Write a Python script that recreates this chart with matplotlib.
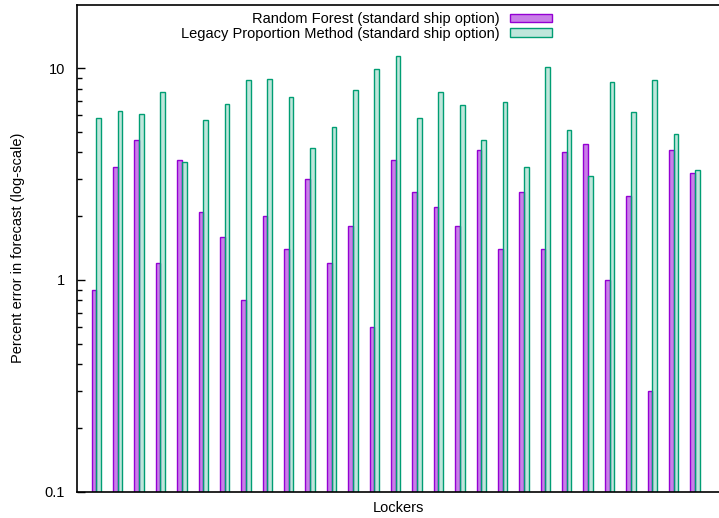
import numpy as np
import matplotlib
matplotlib.use('Agg')
import matplotlib.pyplot as plt
from matplotlib.ticker import LogLocator, FixedLocator, NullFormatter

# values (percent error per locker)
lockers = list(range(29))
random_forest = [0.90, 3.41, 4.59, 1.20, 3.69, 2.10, 1.60, 0.80, 2.00, 1.40,
                 3.00, 1.20, 1.80, 0.60, 3.70, 2.60, 2.20, 1.80, 4.10, 1.40,
                 2.60, 1.40, 4.00, 4.40, 1.00, 2.50, 0.30, 4.10, 3.20]
legacy = [5.8, 6.3, 6.1, 7.7, 3.6, 5.7, 6.8, 8.8, 8.9, 7.3,
          4.2, 5.3, 7.9, 9.9, 11.4, 5.8, 7.7, 6.7, 4.6, 6.9,
          3.4, 10.1, 5.1, 3.1, 8.6, 6.2, 8.8, 4.9, 3.3]
labels = ['Random Forest (standard ship option)',
          'Legacy Proportion Method (standard ship option)']
ytick_vals = [0.1, 1, 10]
ytick_labels = ['0.1', '1', '10']

plt.rcParams['font.family'] = ['Liberation Sans', 'DejaVu Sans']
plt.rcParams['font.size'] = 10.5

purple = '#9400d3'
green = '#009e73'
w = 0.22

fig = plt.figure(figsize=(7.19, 5.18), dpi=100)
ax = fig.add_axes([77.3 / 719, 1 - 491.5 / 518, 1 - 77.3 / 719, (491.5 - 5) / 518])
ax.set_yscale('log', nonpositive='clip')

x = np.array(lockers)
# bars start at 0 and get clipped at the bottom of the log axis
ax.bar(x - w / 2, random_forest, width=w,
       facecolor=matplotlib.colors.to_rgba(purple, 0.5), edgecolor=purple,
       linewidth=1.0, label=labels[0])
ax.bar(x + w / 2, legacy, width=w,
       facecolor=matplotlib.colors.to_rgba(green, 0.25), edgecolor=green,
       linewidth=1.0, label=labels[1])

ax.set_ylim(0.1, 19.9)
ax.set_xlim(-0.89, 29.12)
ax.yaxis.set_major_locator(FixedLocator(ytick_vals))
ax.set_yticklabels(ytick_labels)
ax.yaxis.set_minor_locator(LogLocator(base=10, subs=np.arange(2, 10)))
ax.yaxis.set_minor_formatter(NullFormatter())
ax.tick_params(axis='y', which='major', direction='in', length=6, width=1, pad=9)
ax.tick_params(axis='y', which='minor', direction='in', length=3.5, width=1)
ax.tick_params(axis='x', bottom=False, labelbottom=False)
ax.spines['right'].set_visible(False)
for s in ['left', 'top', 'bottom']:
    ax.spines[s].set_linewidth(1.2)

ax.set_ylabel('Percent error in forecast (log-scale)', labelpad=14)
ax.set_xlabel('Lockers', labelpad=7)

ax.legend(loc='upper right', bbox_to_anchor=(552 / 719, 1 - 12 / 518),
          bbox_transform=fig.transFigure, frameon=False, markerfirst=False,
          handlelength=2.9, handleheight=0.5, handletextpad=0.7,
          labelspacing=0.05, borderpad=0, borderaxespad=0)

fig.savefig('out.png', dpi=100)
